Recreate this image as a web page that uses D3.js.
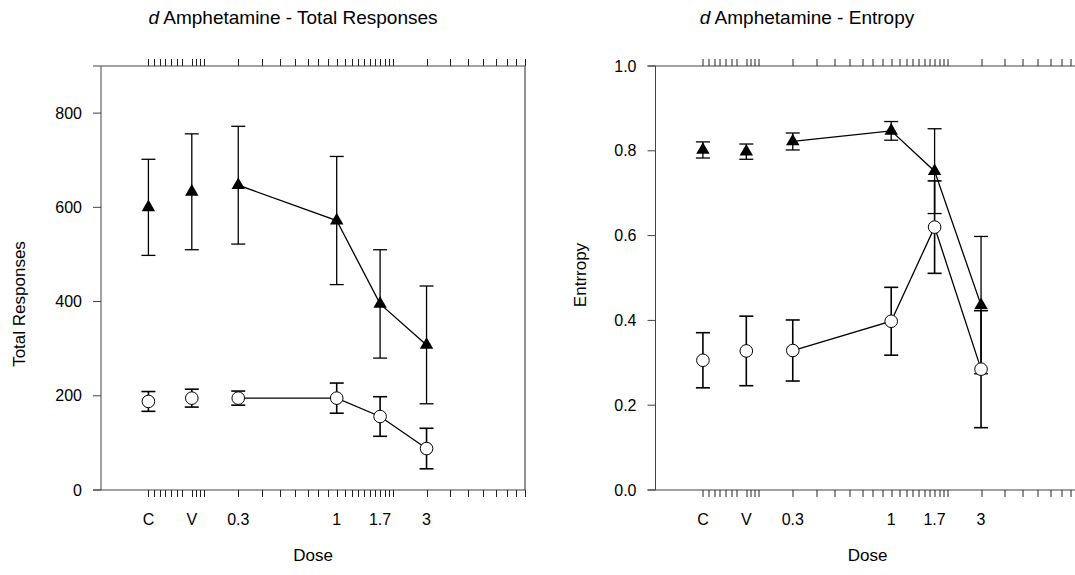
<!DOCTYPE html>
<html>
<head>
<meta charset="utf-8">
<script src="https://cdn.jsdelivr.net/npm/d3@7"></script>
<style>
  body { margin: 0; background: #fff; }
  text { font-family: "Liberation Sans", Arial, sans-serif; fill: #000; }
</style>
</head>
<body>
<script>
// dose categories (C and V sit on the log axis at 0.1 and 0.17)
const doseLabels = ["C", "V", "0.3", "1", "1.7", "3"];
const doseValues = [0.1, 0.17, 0.3, 1, 1.7, 3];

// total responses
const respTriMean = [600, 633, 647, 572, 395, 308];
const respTriErr = [102, 123, 125, 136, 115, 125];
const respCircMean = [188, 195, 195, 195, 156, 88];
const respCircErr = [21, 19, 15, 32, 42, 43];

// entropy
const entTriMean = [0.802, 0.798, 0.822, 0.847, 0.752, 0.436];
const entTriErr = [0.019, 0.018, 0.02, 0.022, 0.1, 0.162];
const entCircMean = [0.306, 0.328, 0.329, 0.398, 0.62, 0.285];
const entCircErr = [0.065, 0.082, 0.072, 0.08, 0.109, 0.138];

const respTicks = [0, 200, 400, 600, 800];
const entTicks = [0, 0.2, 0.4, 0.6, 0.8, 1.0];
const minorTicks = [0.1, 0.107, 0.115, 0.123, 0.132, 0.141, 0.15, 0.17, 0.178, 0.187, 0.197,
  0.3, 0.4, 0.5, 0.6, 0.7, 0.8, 0.9, 1, 1.1, 1.2, 1.3, 1.4, 1.5, 1.6, 1.7, 1.8, 1.9, 2,
  3, 4, 5, 6, 7, 8, 9, 10];

const svg = d3.select("body").append("svg")
  .attr("width", 1075)
  .attr("height", 575);

function drawPanel(p) {
  var g = svg.append("g").attr("transform", "translate(" + p.left + ",66)");
  var width = 424, height = 424;

  var x = d3.scaleLog().domain([0.056, 10]).range([0, width]);
  var y = d3.scaleLinear().domain(p.ydomain).range([height, 0]);

  // frame lines
  g.append("line").attr("x1", 0).attr("x2", 0).attr("y1", 0).attr("y2", height)
    .attr("stroke", "#444");
  g.append("line").attr("x1", -8).attr("x2", width).attr("y1", 0).attr("y2", 0)
    .attr("stroke", "#444");
  g.append("line").attr("x1", -8).attr("x2", width).attr("y1", height).attr("y2", height)
    .attr("stroke", "#444");
  g.append("line").attr("x1", width).attr("x2", width).attr("y1", 0).attr("y2", height)
    .attr("stroke", "#222");

  // log minor ticks, top and bottom
  g.selectAll(".tb").data(minorTicks).enter().append("line")
    .attr("x1", d => Math.round(x(d)) + 0.5).attr("x2", d => Math.round(x(d)) + 0.5)
    .attr("y1", height).attr("y2", height + 7)
    .attr("stroke", "#222");
  g.selectAll(".tt").data(minorTicks).enter().append("line")
    .attr("x1", d => Math.round(x(d)) + 0.5).attr("x2", d => Math.round(x(d)) + 0.5)
    .attr("y1", 0).attr("y2", -7)
    .attr("stroke", "#222");

  // y ticks
  g.selectAll(".yt").data(p.yticks).enter().append("line")
    .attr("x1", -8).attr("x2", 0)
    .attr("y1", d => y(d)).attr("y2", d => y(d))
    .attr("stroke", "#444");
  g.selectAll(".yl").data(p.yticks).enter().append("text")
    .attr("x", -19).attr("y", d => y(d)).attr("dy", "0.35em")
    .attr("text-anchor", "end").style("font-size", "16px")
    .text(p.yfmt);

  // x labels
  g.selectAll(".xl").data(doseValues).enter().append("text")
    .attr("x", d => x(d)).attr("y", height + 35)
    .attr("text-anchor", "middle").style("font-size", "16px")
    .text((d, i) => doseLabels[i]);

  // titles
  var t = svg.append("text").attr("x", p.titleX).attr("y", 24)
    .attr("text-anchor", "middle").style("font-size", "19px");
  t.append("tspan").style("font-style", "italic").text("d");
  t.append("tspan").text(" Amphetamine - " + p.title);

  svg.append("text").attr("x", p.left + 212).attr("y", 561)
    .attr("text-anchor", "middle").style("font-size", "17px").text("Dose");

  svg.append("text")
    .attr("transform", "translate(" + p.ylabX + "," + p.ylabY + ") rotate(-90)")
    .attr("dy", "0.35em").attr("text-anchor", "middle").style("font-size", "17px")
    .text(p.ylab);

  var series = [
    {mean: p.triMean, err: p.triErr, kind: "tri"},
    {mean: p.circMean, err: p.circErr, kind: "circ"}
  ];

  series.forEach(function(s) {
    var pts = doseValues.map((d, i) => ({x: d, m: s.mean[i], e: s.err[i]}));

    var line = d3.line().x(d => x(d.x)).y(d => y(d.m));
    g.append("path").datum(pts.slice(2))
      .attr("d", line).attr("fill", "none")
      .attr("stroke", "#000").attr("stroke-width", 1.3);

    var eb = g.append("g").attr("stroke", "#000").attr("stroke-width", s.kind == "circ" ? 1.6 : 1.3);
    pts.forEach(function(d) {
      var cx = x(d.x);
      eb.append("line").attr("x1", cx).attr("x2", cx).attr("y1", y(d.m - d.e)).attr("y2", y(d.m + d.e));
      eb.append("line").attr("x1", cx - 7).attr("x2", cx + 7).attr("y1", y(d.m - d.e)).attr("y2", y(d.m - d.e));
      eb.append("line").attr("x1", cx - 7).attr("x2", cx + 7).attr("y1", y(d.m + d.e)).attr("y2", y(d.m + d.e));
    });
  });

  // markers on top
  g.selectAll(".circ").data(doseValues).enter().append("circle")
    .attr("cx", d => x(d)).attr("cy", (d, i) => y(p.circMean[i]))
    .attr("r", 6.3).attr("fill", "#fff").attr("stroke", "#000").attr("stroke-width", 1);
  g.selectAll(".tri").data(doseValues).enter().append("path")
    .attr("transform", (d, i) => "translate(" + x(d) + "," + y(p.triMean[i]) + ")")
    .attr("d", d3.symbol(d3.symbolTriangle).size(78))
    .attr("fill", "#000");
}

drawPanel({
  left: 101, ydomain: [0, 900], yticks: respTicks, yfmt: d => d,
  triMean: respTriMean, triErr: respTriErr, circMean: respCircMean, circErr: respCircErr,
  title: "Total Responses", titleX: 293, ylab: "Total Responses", ylabX: 19, ylabY: 304
});

drawPanel({
  left: 655.5, ydomain: [0, 1], yticks: entTicks, yfmt: d3.format(".1f"),
  triMean: entTriMean, triErr: entTriErr, circMean: entCircMean, circErr: entCircErr,
  title: "Entropy", titleX: 807, ylab: "Entrropy", ylabX: 580, ylabY: 275
});
</script>
</body>
</html>
